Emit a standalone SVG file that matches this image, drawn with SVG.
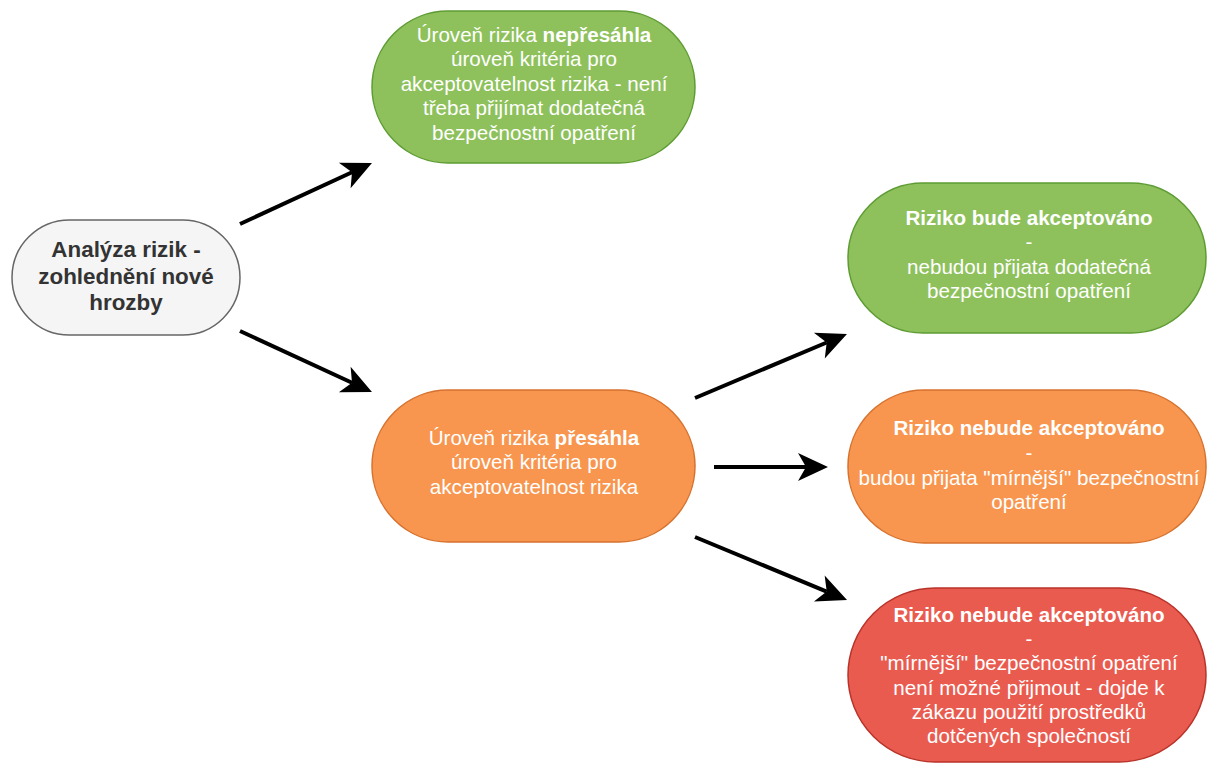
<svg xmlns="http://www.w3.org/2000/svg" width="1207" height="764" viewBox="0 0 1207 764">
<style>
text{font-family:"Liberation Sans",Arial,sans-serif;text-anchor:middle}
.w{fill:#ffffff;font-size:20.6px}
.b{font-weight:bold}
.g{fill:#333333;font-size:22.4px;font-weight:bold}
.green{fill:#8EC15C;stroke:#5E9C33;stroke-width:1.5}
.orange{fill:#F8964F;stroke:#D6722F;stroke-width:1.5}
.red{fill:#EA5B4F;stroke:#B8332A;stroke-width:1.5}
.gray{fill:#F5F5F5;stroke:#666666;stroke-width:1.5}
.edge{stroke:#000;stroke-width:4;fill:none;marker-end:url(#arr)}
</style>
<defs>
<marker id="arr" markerUnits="userSpaceOnUse" viewBox="-10 -16 34 32" markerWidth="34" markerHeight="32" refX="0" refY="0" orient="auto">
<path d="M22,0 L-8,-14 L0,0 L-8,14 Z" fill="#000"/>
</marker>
</defs>
<rect width="1207" height="764" fill="#ffffff"/>
<g id="edges">
<line class="edge" x1="240" y1="224" x2="352" y2="172.2"/>
<line class="edge" x1="240" y1="331" x2="352" y2="382.8"/>
<line class="edge" x1="695" y1="398" x2="826.7" y2="342.5"/>
<line class="edge" x1="714" y1="467" x2="806" y2="467"/>
<line class="edge" x1="695" y1="537" x2="826.7" y2="591.6"/>
</g>
<g id="node-analysis">
<rect class="gray" x="12" y="220" width="228" height="115" rx="57.5" ry="57.5"/>
<text class="g" x="126" y="257">Analýza rizik -</text>
<text class="g" x="126" y="284">zohlednění nové</text>
<text class="g" x="126" y="310">hrozby</text>
</g>
<g id="node-not-exceeded">
<rect class="green" x="372" y="11" width="323" height="152" rx="76" ry="76"/>
<text class="w" x="534" y="42">Úroveň rizika <tspan class="b">nepřesáhla</tspan></text>
<text class="w" x="534" y="66">úroveň kritéria pro</text>
<text class="w" x="534" y="91">akceptovatelnost rizika - není</text>
<text class="w" x="534" y="115">třeba přijímat dodatečná</text>
<text class="w" x="534" y="140">bezpečnostní opatření</text>
</g>
<g id="node-exceeded">
<rect class="orange" x="372" y="390" width="323" height="152" rx="76" ry="76"/>
<text class="w" x="534" y="445">Úroveň rizika <tspan class="b">přesáhla</tspan></text>
<text class="w" x="534" y="469">úroveň kritéria pro</text>
<text class="w" x="534" y="494">akceptovatelnost rizika</text>
</g>
<g id="node-accepted">
<rect class="green" x="848" y="183" width="358" height="150" rx="75" ry="75"/>
<text class="w b" x="1029" y="225">Riziko bude akceptováno</text>
<text class="w" x="1029" y="249">-</text>
<text class="w" x="1029" y="274">nebudou přijata dodatečná</text>
<text class="w" x="1029" y="298">bezpečnostní opatření</text>
</g>
<g id="node-milder">
<rect class="orange" x="848" y="390" width="358" height="153" rx="76" ry="76"/>
<text class="w b" x="1029" y="435">Riziko nebude akceptováno</text>
<text class="w" x="1029" y="460">-</text>
<text class="w" x="1029" y="485">budou přijata "mírnější" bezpečnostní</text>
<text class="w" x="1029" y="509">opatření</text>
</g>
<g id="node-ban">
<rect class="red" x="848" y="588" width="358" height="174" rx="87" ry="87"/>
<text class="w b" x="1029" y="622">Riziko nebude akceptováno</text>
<text class="w" x="1029" y="646">-</text>
<text class="w" x="1029" y="670">"mírnější" bezpečnostní opatření</text>
<text class="w" x="1029" y="695">není možné přijmout - dojde k</text>
<text class="w" x="1029" y="719">zákazu použití prostředků</text>
<text class="w" x="1029" y="743">dotčených společností</text>
</g>
</svg>
